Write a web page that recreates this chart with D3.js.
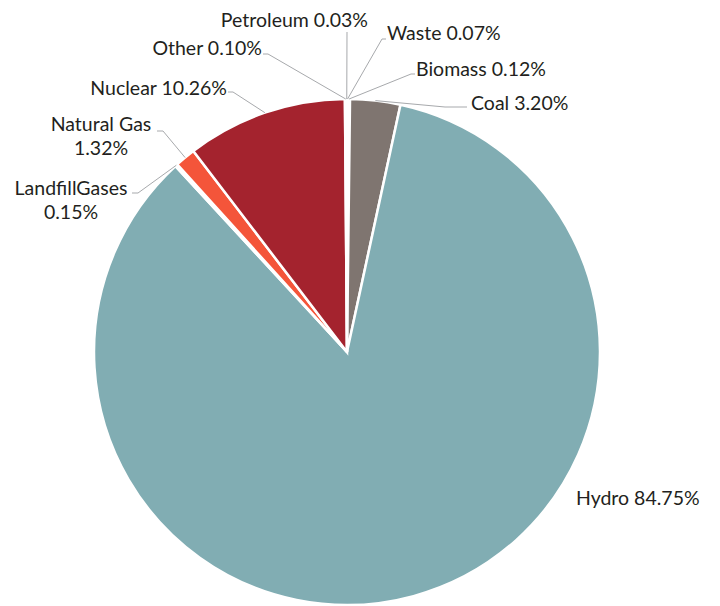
<!DOCTYPE html>
<html><head><meta charset="utf-8">
<script src="https://cdn.jsdelivr.net/npm/d3@7"></script>
<style>body{margin:0;background:#fff}text{font-family:Lato,"Open Sans",sans-serif;fill:#231f20}</style>
</head><body>
<svg id="c" width="720" height="606"></svg>
<script>
const categories = ["Waste","Biomass","Coal","Hydro","LandfillGases","Natural Gas","Nuclear","Other","Petroleum"];
const values = [0.07,0.12,3.20,84.75,0.15,1.32,10.26,0.10,0.03];
const labelLines = [["Waste 0.07%"],["Biomass 0.12%"],["Coal 3.20%"],["Hydro 84.75%"],["LandfillGases","0.15%"],["Natural Gas","1.32%"],["Nuclear 10.26%"],["Other 0.10%"],["Petroleum 0.03%"]];
const colors = ["#e9e4dc","#ece8e0","#7f7570","#81adb3","#efe7c6","#f4553a","#a4232e","#f0ece6","#f2eee8"];

// layout: label anchor [x, baseline y, text-anchor], elbow point, leader end
const layout = [
  {x:387,y:40,a:"start",elbow:[382,39],end:[386,39]},
  {x:416,y:76,a:"start",elbow:[411,74],end:[415,74]},
  {x:471,y:110,a:"start",elbow:[445,107],end:[467,107]},
  {x:576,y:505,a:"start",elbow:null},
  {x:71,y:195,a:"middle",elbow:[138,193],end:[132,193]},
  {x:101,y:131,a:"middle",elbow:[163,131],end:[157,131]},
  {x:227,y:95,a:"end",elbow:[233,92],end:[228,92]},
  {x:262,y:55,a:"end",elbow:[268,54],end:[263,54]},
  {x:368,y:27,a:"end",elbow:[347,32],end:[347,32]}
];

const cx=347, cy=352, R=253;
const svg=d3.select("#c");
const g=svg.append("g").attr("transform",`translate(${cx},${cy})`);
const pie=d3.pie().sort(null).value(d=>d)(values);
const arc=d3.arc().innerRadius(0).outerRadius(R);
g.selectAll("path.s").data(pie).join("path").attr("class","s")
  .attr("d",arc).attr("fill",(d,i)=>colors[i]).attr("stroke","#fff").attr("stroke-width",2.5);

pie.forEach((d,i)=>{
  const L=layout[i];
  if(L.elbow){
    const m=(d.startAngle+d.endAngle)/2;
    const p0=[cx+R*Math.sin(m), cy-R*Math.cos(m)];
    svg.append("polyline").attr("points",[p0,L.elbow,L.end].map(p=>p.join(",")).join(" "))
      .attr("fill","none").attr("stroke","#a7a9ac").attr("stroke-width",1);
  }
  const t=svg.append("text").attr("x",L.x).attr("y",L.y).attr("text-anchor",L.a).attr("font-size",19.5);
  labelLines[i].forEach((s,k)=>t.append("tspan").attr("x",L.x).attr("dy",k?24:0).text(s));
});
</script>
</body></html>
